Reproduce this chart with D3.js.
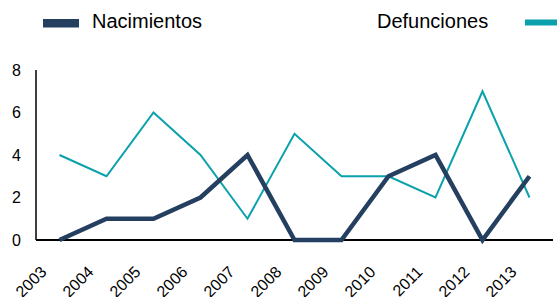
<!DOCTYPE html>
<html>
<head>
<meta charset="utf-8">
<script src="https://cdn.jsdelivr.net/npm/d3@7"></script>
<style>
    body { margin: 0; background: #fff; }
    svg { display: block; font-family: "Liberation Sans", Arial, sans-serif; }
</style>
</head>
<body>
<div id="chart"></div>
<script>
const years = ['2003', '2004', '2005', '2006', '2007', '2008', '2009', '2010', '2011', '2012', '2013'];
const nacimientos = [0, 1, 1, 2, 4, 0, 0, 3, 4, 0, 3];
const defunciones = [4, 3, 6, 4, 1, 5, 3, 3, 2, 7, 2];
const yTicks = [0, 2, 4, 6, 8];

const width = 557, height = 297;
const navy = '#243f60', teal = '#0aa1ad';

const svg = d3.select('#chart').append('svg')
    .attr('width', width)
    .attr('height', height);

const x = d3.scaleBand().domain(years).range([36, 553]);
const y = d3.scaleLinear().domain([0, 8]).range([240, 70]);

// axes: plain lines, no tick marks
svg.append('line')
    .attr('x1', 36).attr('x2', 36)
    .attr('y1', y(8)).attr('y2', y(0))
    .attr('stroke', '#000').attr('stroke-width', 1.5);

svg.append('line')
    .attr('x1', 36).attr('x2', 553)
    .attr('y1', y(0)).attr('y2', y(0))
    .attr('stroke', '#000').attr('stroke-width', 2);

svg.append('g')
    .selectAll('text')
    .data(yTicks)
    .enter().append('text')
    .attr('x', 21)
    .attr('y', d => y(d))
    .attr('dy', '0.35em')
    .attr('text-anchor', 'end')
    .attr('font-size', '16px')
    .attr('fill', '#000')
    .text(d => d);

const cx = d => x(d) + x.bandwidth() / 2;

svg.append('g')
    .selectAll('text')
    .data(years)
    .enter().append('text')
    .attr('transform', d => `translate(${cx(d) - 12},${y(0) + 33}) rotate(-45)`)
    .attr('text-anchor', 'end')
    .attr('font-size', '16px')
    .attr('fill', '#000')
    .text(d => d);

const line = d3.line()
    .x(d => cx(d.year))
    .y(d => y(d.value));

const series = [
    { name: 'Defunciones', values: defunciones, color: teal, width: 2 },
    { name: 'Nacimientos', values: nacimientos, color: navy, width: 4.5 }
];

series.forEach(s => {
    svg.append('path')
        .datum(years.map((yr, i) => ({ year: yr, value: s.values[i] })))
        .attr('d', line)
        .attr('fill', 'none')
        .attr('stroke', s.color)
        .attr('stroke-width', s.width)
        .attr('stroke-linejoin', 'miter');
});

// legend
svg.append('rect')
    .attr('x', 43).attr('y', 19)
    .attr('width', 36).attr('height', 8.5)
    .attr('fill', navy);
svg.append('text')
    .attr('x', 92).attr('y', 28)
    .attr('font-size', '20px')
    .attr('fill', '#000')
    .text('Nacimientos');

svg.append('text')
    .attr('x', 377).attr('y', 28)
    .attr('font-size', '20px')
    .attr('fill', '#000')
    .text('Defunciones');
svg.append('rect')
    .attr('x', 525).attr('y', 19.5)
    .attr('width', 32).attr('height', 6)
    .attr('fill', teal);
</script>
</body>
</html>
